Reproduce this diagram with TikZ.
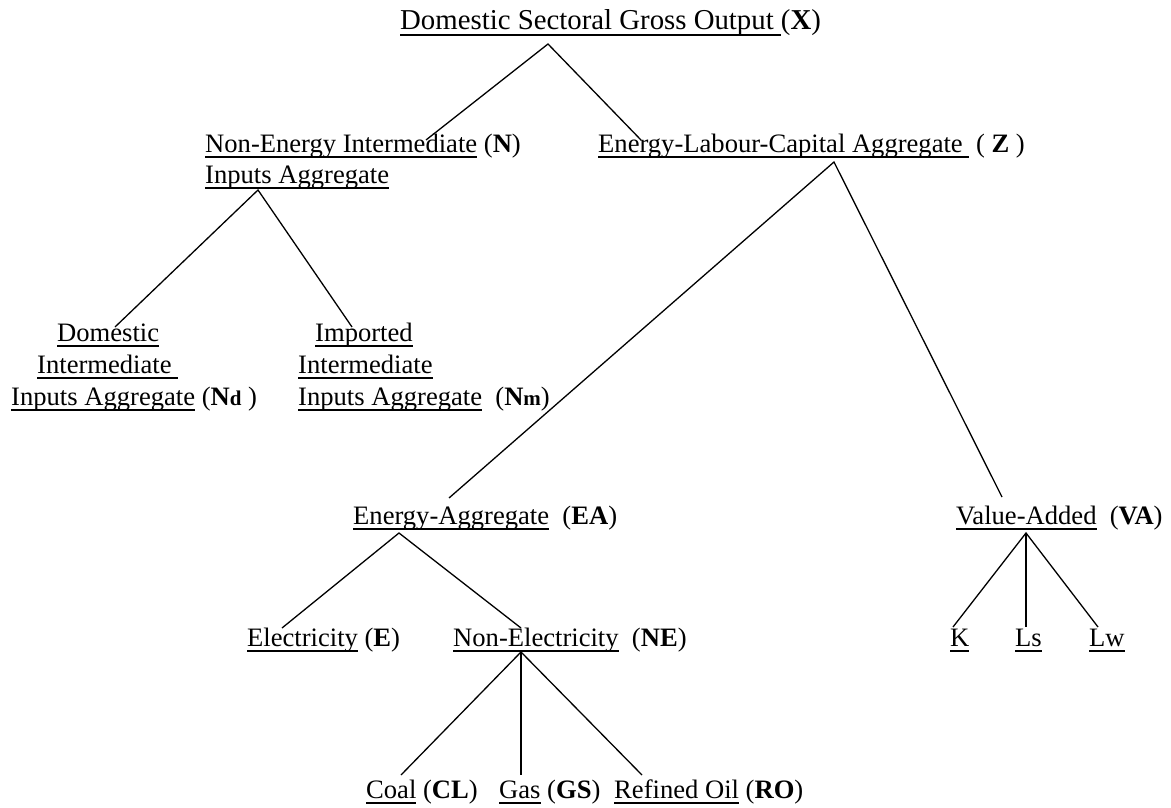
\documentclass[tikz,border=0pt]{standalone}
\usepackage{fontspec}
\setmainfont{Liberation Serif}
\usetikzlibrary{positioning}
% underline at a fixed depth, as in the original
\newcommand{\undl}[1]{\setbox0\hbox{#1}\rlap{\rule[-6pt]{\wd0}{1.6pt}}\box0\relax}
\newcommand{\sub}[1]{{\fontsize{21}{25}\selectfont\textbf{#1}}}
\tikzset{
  lbl/.style={anchor=base west, inner sep=0pt, font=\fontsize{26.6}{32}\selectfont},
  ttl/.style={anchor=base west, inner sep=0pt, font=\fontsize{28.8}{34}\selectfont},
  branch/.style={line width=1.3pt}
}
\begin{document}
\begin{tikzpicture}[x=1pt,y=-1pt]
  \useasboundingbox (0,0) rectangle (1171,808);
  % top level
  \node[ttl] (X) at (400,30) {\undl{Domestic Sectoral Gross Output }(\textbf{X})};
  % second level
  \node[lbl] (N) at (205,152) {\undl{Non-Energy Intermediate} (\textbf{N})};
  \node[lbl] (N2) at (205,183) {\undl{Inputs Aggregate}};
  \node[lbl] (Z) at (598,152) {\undl{Energy-Labour-Capital Aggregate } ( \textbf{Z} )};
  % intermediate inputs
  \node[lbl] (Nd1) at (57,341) {\undl{Domestic}};
  \node[lbl] (Nd2) at (37,373) {\undl{Intermediate }};
  \node[lbl] (Nd3) at (11,405) {\undl{Inputs Aggregate} (\textbf{N}\sub{d} )};
  \node[lbl] (Nm1) at (315,341) {\undl{Imported}};
  \node[lbl] (Nm2) at (298,373) {\undl{Intermediate}};
  \node[lbl] (Nm3) at (298,405) {\undl{Inputs Aggregate}\ \ (\textbf{N}\sub{m})};
  % energy and value added
  \node[lbl] (EA) at (353,524) {\undl{Energy-Aggregate}\ \ (\textbf{EA})};
  \node[lbl] (VA) at (956,524) {\undl{Value-Added}\ \ (\textbf{VA})};
  \node[lbl] (E) at (247,646) {\undl{Electricity} (\textbf{E})};
  \node[lbl] (NE) at (453,646) {\undl{Non-Electricity}\ \ (\textbf{NE})};
  \node[lbl] (K) at (950,646) {\undl{K}};
  \node[lbl] (Ls) at (1015,646) {\undl{Ls}};
  \node[lbl] (Lw) at (1089,646) {\undl{Lw}};
  % fuels
  \node[lbl] (CL) at (366,798) {\undl{Coal} (\textbf{CL})};
  \node[lbl] (GS) at (499,798) {\undl{Gas} (\textbf{GS})};
  \node[lbl] (RO) at (614,798) {\undl{Refined Oil} (\textbf{RO})};
  % branch points
  \coordinate (X-top) at (548,44);
  \coordinate (N-end) at (426,140);
  \coordinate (Z-end) at (641,140);
  \coordinate (N-top) at (258,190);
  \coordinate (Nd-end) at (115,327);
  \coordinate (Nm-end) at (352,327);
  \coordinate (Z-top) at (834,162);
  \coordinate (EA-end) at (449,498);
  \coordinate (VA-end) at (1002,497);
  \coordinate (EA-top) at (399,533);
  \coordinate (E-end) at (282,628);
  \coordinate (NE-end) at (521,628);
  \coordinate (VA-top) at (1026,533);
  \coordinate (K-end) at (953,627);
  \coordinate (Ls-end) at (1026,627);
  \coordinate (Lw-end) at (1098,627);
  \coordinate (NE-top) at (521,652);
  \coordinate (CL-end) at (401,775);
  \coordinate (GS-end) at (521,775);
  \coordinate (RO-end) at (642,775);
  % connectors
  \draw[branch] (N-end) -- (X-top) -- (Z-end);
  \draw[branch] (Nd-end) -- (N-top) -- (Nm-end);
  \draw[branch] (EA-end) -- (Z-top) -- (VA-end);
  \draw[branch] (E-end) -- (EA-top) -- (NE-end);
  \draw[branch] (K-end) -- (VA-top) -- (Lw-end);
  \draw[branch] (VA-top) -- (Ls-end);
  \draw[branch] (CL-end) -- (NE-top) -- (RO-end);
  \draw[branch] (NE-top) -- (GS-end);
\end{tikzpicture}
\end{document}
